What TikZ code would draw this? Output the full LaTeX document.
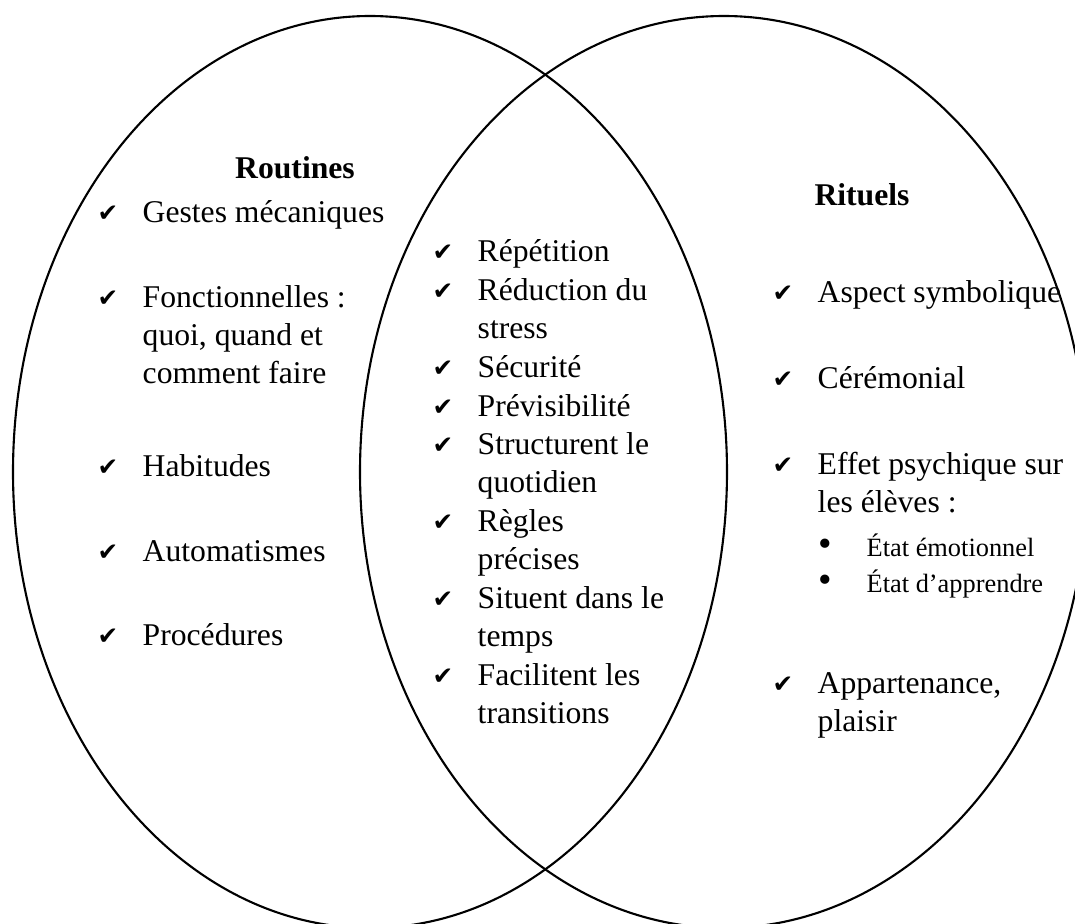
\documentclass[tikz,border=0pt]{standalone}
\usepackage{fontspec}
\setmainfont{Liberation Serif}
\newfontfamily\symfont{DejaVu Sans}
\newlength\pxu
\setlength\pxu{0.01cm}
\newcommand{\chk}[1]{\makebox[#1][l]{\raisebox{0.05ex}{\symfont\fontsize{7}{7}\selectfont ✔}}}
\newcommand{\puce}{\makebox[49\pxu][l]{\hspace{1\pxu}\fontsize{11}{11}\selectfont\textbullet}}
\newcommand{\lines}[1]{\begin{tabular}[t]{@{}l@{}}#1\end{tabular}}

\tikzset{
  titre/.style={anchor=base, inner sep=0pt, font=\fontsize{9}{10.9}\selectfont\bfseries},
  lbl/.style={anchor=base west, inner sep=0pt, font=\fontsize{9}{10.9}\selectfont},
  petit/.style={anchor=base west, inner sep=0pt, font=\fontsize{7.5}{9}\selectfont},
}

\begin{document}
\begin{tikzpicture}[x=0.01cm, y=-0.01cm]
    \useasboundingbox (0,0) rectangle (1075,924);
    \clip (0,0) rectangle (1075,924);

    \draw[line width=0.6pt] (370,472) ellipse [x radius=357, y radius=456];
    \draw[line width=0.6pt] (724,472) ellipse [x radius=364, y radius=456];

    % Routines
    \node[titre] (routines) at (295,178) {Routines};
    \node[lbl] (r1) at (97,222) {\chk{45\pxu}Gestes mécaniques};
    \node[lbl] (r2) at (97,307) {\chk{45\pxu}\lines{Fonctionnelles :\\ quoi, quand et\\ comment faire}};
    \node[lbl] (r3) at (97,476) {\chk{45\pxu}Habitudes};
    \node[lbl] (r4) at (97,561) {\chk{45\pxu}Automatismes};
    \node[lbl] (r5) at (97,645) {\chk{45\pxu}Procédures};

    % commun
    \node[lbl] (c1) at (432,261) {\chk{45\pxu}Répétition};
    \node[lbl] (c2) at (432,300) {\chk{45\pxu}\lines{Réduction du\\ stress}};
    \node[lbl] (c3) at (432,377) {\chk{45\pxu}Sécurité};
    \node[lbl] (c4) at (432,416) {\chk{45\pxu}Prévisibilité};
    \node[lbl] (c5) at (432,454) {\chk{45\pxu}\lines{Structurent le\\ quotidien}};
    \node[lbl] (c6) at (432,531) {\chk{45\pxu}\lines{Règles\\ précises}};
    \node[lbl] (c7) at (432,608) {\chk{45\pxu}\lines{Situent dans le\\ temps}};
    \node[lbl] (c8) at (432,685) {\chk{45\pxu}\lines{Facilitent les\\ transitions}};

    % Rituels
    \node[titre] (rituels) at (862,205) {Rituels};
    \node[lbl] (t1) at (772,302) {\chk{45\pxu}Aspect symbolique};
    \node[lbl] (t2) at (772,388) {\chk{45\pxu}Cérémonial};
    \node[lbl] (t3) at (772,474) {\chk{45\pxu}\lines{Effet psychique sur\\ les élèves :}};
    \node[petit] (t3a) at (817,556) {\puce État émotionnel};
    \node[petit] (t3b) at (817,592) {\puce État d’apprendre};
    \node[lbl] (t4) at (772,693) {\chk{45\pxu}\lines{Appartenance,\\ plaisir}};
\end{tikzpicture}
\end{document}
